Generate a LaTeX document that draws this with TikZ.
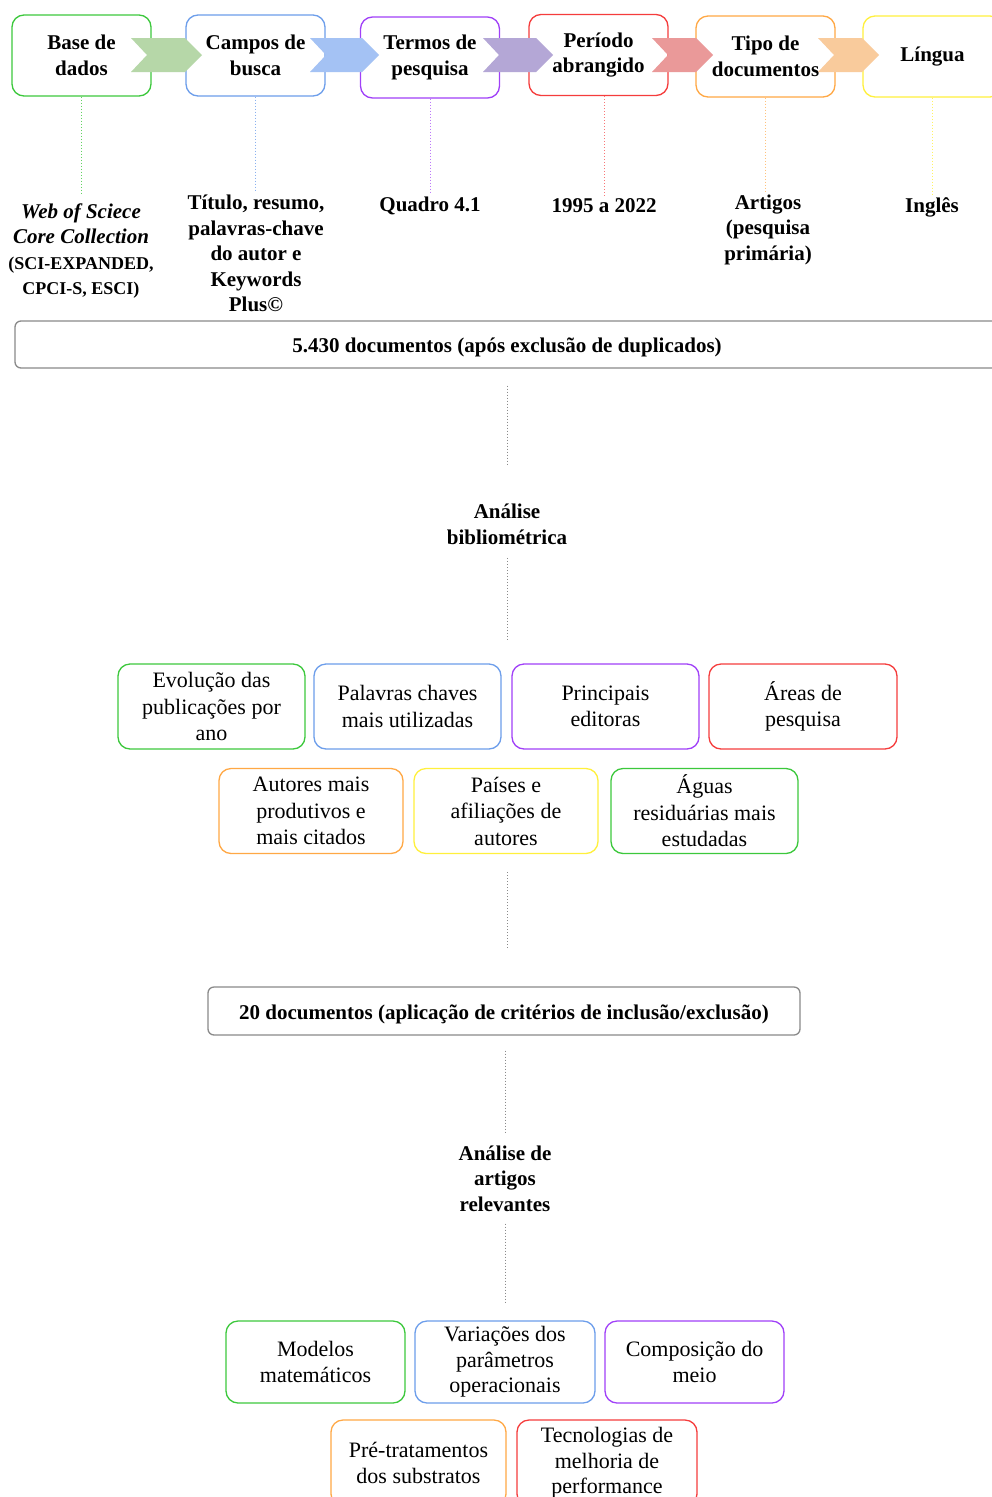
\documentclass[tikz,border=0pt]{standalone}
\usepackage{fontspec}
\setmainfont{Liberation Serif}
\definecolor{cgreen}{HTML}{3CC83C}
\definecolor{cblue}{HTML}{6D9EEB}
\definecolor{cpurple}{HTML}{A040F8}
\definecolor{cred}{HTML}{F53C3C}
\definecolor{corange}{HTML}{FFA845}
\definecolor{cyellow}{HTML}{FFF03C}
\definecolor{cgray}{HTML}{8A8A8A}
\definecolor{fgreen}{HTML}{B6D7A8}
\definecolor{fblue}{HTML}{A4C2F4}
\definecolor{fpurple}{HTML}{B4A7D6}
\definecolor{fred}{HTML}{EA9999}
\definecolor{forange}{HTML}{F9CB9C}
\newcommand\toptxt{\fontsize{21}{25.5}\selectfont\bfseries}
\newcommand\lowtxt{\fontsize{22}{26.5}\selectfont}
\newcommand\smalltop{\fontsize{18}{25.5}\selectfont\bfseries}
\newcommand\chevron[3]{\fill[#1] (#2,38) -- ({#3-17},38) -- (#3,55) -- ({#3-17},72) -- (#2,72) -- ({#2+16},55) -- cycle;}
\begin{document}
\begin{tikzpicture}[x=1pt,y=-1pt,
  box/.style={draw=#1, line width=1.3pt, rounded corners=12pt, fill=white, inner sep=0pt, align=center},
  topbox/.style={box=#1, minimum width=139pt, minimum height=81pt, font=\toptxt},
  lowbox/.style={box=#1, minimum height=85pt, font=\lowtxt},
  docbox/.style={draw=cgray, line width=1.3pt, rounded corners=6pt, fill=white, inner sep=0pt, align=center, font=\toptxt, text height=19pt, text depth=3pt},
  lbl/.style={align=center, inner sep=0pt, font=\toptxt},
  cdot/.style={draw=#1, line width=0.8pt, dash pattern=on 1.2pt off 1.8pt},
]
\useasboundingbox (0,0) rectangle (991,1497);
\fill[white] (0,0) rectangle (991,1497);

% top row
\node[topbox=cgreen]  (b1) at (81.5,55.5)  {Base de\\dados};
\node[topbox=cblue]   (b2) at (255.5,55.5) {Campos de\\busca};
\node[topbox=cpurple] (b3) at (430,57.5)   {Termos de\\pesquisa};
\node[topbox=cred]    (b4) at (598.5,55)   {Período\\abrangido};
\node[topbox=corange] (b5) at (765.5,56.5) {Tipo de\\documentos};
\node[topbox=cyellow] (b6) at (932.5,56.5) {Língua};

\chevron{fgreen}{131}{202}
\chevron{fblue}{310}{379}
\chevron{fpurple}{483}{553}
\chevron{fred}{652}{713}
\chevron{forange}{818}{879}

% labels
\node[lbl] (l1) at (81,251) {\itshape Web of Sciece\\\itshape Core Collection\\\smalltop(SCI-EXPANDED,\\\smalltop CPCI-S, ESCI)};
\node[lbl] (l2) at (256,253.5) {Título, resumo,\\palavras-chave\\do autor e\\Keywords\\Plus©};
\node[lbl] (l3) at (430,206) {Quadro 4.1};
\node[lbl] (l4) at (604,206) {1995 a 2022};
\node[lbl] (l5) at (768,229.5) {Artigos\\(pesquisa\\primária)};
\node[lbl] (l6) at (932,207) {Inglês};

\draw[cdot=cgreen!80, shorten >=8pt]  (b1.south) -- (b1.south |- l1.north);
\draw[cdot=cblue!80, shorten >=3pt]   (b2.south) -- (b2.south |- l2.north);
\draw[cdot=cpurple!70, shorten >=3pt] (b3.south) -- (l3.north);
\draw[cdot=cred!70, shorten >=3pt]    (b4.south -| l4.north) -- (l4.north);
\draw[cdot=corange!70, shorten >=3pt] (b5.south) -- (b5.south |- l5.north);
\draw[cdot=cyellow!80, shorten >=3pt] (b6.south) -- (b6.south |- l6.north);

% documents 1
\node[docbox, minimum width=984pt, minimum height=47pt] (d1) at (507,344.5) {5.430 documentos (após exclusão de duplicados)};
\node[lbl] (a1) at (507,524.5) {Análise\\bibliométrica};
\draw[cdot=cgray, shorten <=17pt, shorten >=40pt] (d1.south) -- (a1.north);
\coordinate (r1) at (507,663);
\draw[cdot=cgray, shorten <=13pt, shorten >=23pt] (a1.south) -- (r1);

% bibliometric boxes
\node[lowbox=cgreen,  minimum width=187pt] (e1) at (211.5,706.5) {Evolução das\\publicações por\\ano};
\node[lowbox=cblue,   minimum width=187pt] (e2) at (407.5,706.5) {Palavras chaves\\mais utilizadas};
\node[lowbox=cpurple, minimum width=187pt] (e3) at (605.5,706.5) {Principais\\editoras};
\node[lowbox=cred,    minimum width=188pt] (e4) at (803,706.5)   {Áreas de\\pesquisa};
\node[lowbox=corange, minimum width=184pt] (e5) at (311,811)     {Autores mais\\produtivos e\\mais citados};
\node[lowbox=cyellow, minimum width=184pt] (e6) at (506,811)     {Países e\\afiliações de\\autores};
\node[lowbox=cgreen,  minimum width=187pt] (e7) at (704.5,811)   {Águas\\residuárias mais\\estudadas};

% documents 2
\coordinate (r2) at (507,853);
\node[docbox, minimum width=592pt, minimum height=48pt] (d2) at (504,1011) {20 documentos (aplicação de critérios de inclusão/exclusão)};
\draw[cdot=cgray, shorten <=19pt, shorten >=37pt] (r2) -- (r2 |- d2.north);
\node[lbl] (a2) at (505,1178.5) {Análise de\\artigos\\relevantes};
\draw[cdot=cgray, shorten <=15pt, shorten >=13pt] (a2.north |- d2.south) -- (a2.north);
\coordinate (r3) at (505,1320);
\draw[cdot=cgray, shorten <=12pt, shorten >=17pt] (a2.south) -- (r3);

% relevant article boxes
\begin{scope}[lowbox/.append style={font=\fontsize{22}{25.5}\selectfont}]
\node[lowbox=cgreen,  minimum width=179pt, minimum height=82pt] (m1) at (315.5,1362) {Modelos\\matemáticos};
\node[lowbox=cblue,   minimum width=180pt, minimum height=82pt] (m2) at (505,1362)   {Variações dos\\parâmetros\\operacionais};
\node[lowbox=cpurple, minimum width=179pt, minimum height=82pt] (m3) at (694.5,1362) {Composição do\\meio};
\node[lowbox=corange, minimum width=175pt, minimum height=86pt] (m4) at (418.5,1463) {Pré-tratamentos\\dos substratos};
\node[lowbox=cred,    minimum width=180pt, minimum height=86pt] (m5) at (607,1463)   {Tecnologias de\\melhoria de\\performance};
\end{scope}
\end{tikzpicture}
\end{document}
